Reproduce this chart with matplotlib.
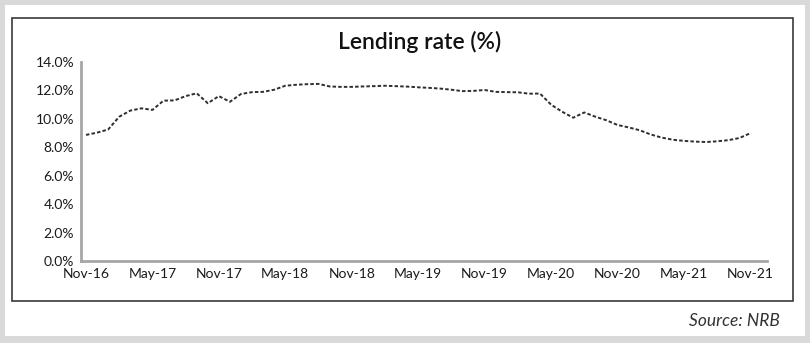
import matplotlib
matplotlib.use("Agg")
import matplotlib.pyplot as plt
from matplotlib.patches import Rectangle

plt.rcParams['font.family'] = ['Lato', 'DejaVu Sans']

# monthly lending rate (%), Nov-16 .. Nov-21
rates = [8.87, 9.03, 9.25, 10.15, 10.58, 10.74, 10.63, 11.28, 11.30, 11.60,
         11.80, 11.10, 11.60, 11.20, 11.75, 11.88, 11.90, 12.05, 12.33, 12.40,
         12.44, 12.46, 12.28, 12.25, 12.25, 12.28, 12.30, 12.33, 12.30, 12.27,
         12.22, 12.18, 12.13, 12.05, 11.95, 11.97, 12.03, 11.90, 11.88, 11.87,
         11.77, 11.78, 11.00, 10.50, 10.08, 10.45, 10.15, 9.90, 9.57, 9.40,
         9.20, 8.90, 8.68, 8.53, 8.45, 8.40, 8.37, 8.42, 8.50, 8.65, 8.99]
tick_labels = ['Nov-16', 'May-17', 'Nov-17', 'May-18', 'Nov-18', 'May-19',
               'Nov-19', 'May-20', 'Nov-20', 'May-21', 'Nov-21']
y_ticks = [0, 2, 4, 6, 8, 10, 12, 14]

fig = plt.figure(figsize=(8.1, 3.43), dpi=100)
fig.patch.set_facecolor('#d9d9d9')

# white panel and dark frame
W, H = 810, 343
fig.add_artist(Rectangle((5 / W, 7 / H), 800 / W, 331 / H, transform=fig.transFigure,
                         facecolor='white', edgecolor='none', zorder=0))
fig.add_artist(Rectangle((12 / W, (H - 301) / H), 781 / W, 283 / H, transform=fig.transFigure,
                         facecolor='none', edgecolor='#3a3a3a', lw=1.2, zorder=1))

ax = fig.add_axes([81 / W, (H - 261) / H, 686 / W, 199 / H])
ax.set_facecolor('none')

x = list(range(len(rates)))
ax.plot(x, rates, color='#2e2e2e', lw=1.4, linestyle=(0, (1.8, 1.1)))

ax.set_xlim(-0.45, 61.5)
ax.set_ylim(0, 14)
ax.set_yticks(y_ticks)
ax.set_yticklabels(['{:.1f}%'.format(v) for v in y_ticks], fontsize=10, color='#1a1a1a')
ax.set_xticks(range(0, 61, 6))
ax.set_xticklabels(tick_labels, fontsize=10, color='#1a1a1a')
ax.tick_params(length=0, pad=5)

for s in ['top', 'right']:
    ax.spines[s].set_visible(False)
for s in ['left', 'bottom']:
    ax.spines[s].set_color('#a6a6a6')
    ax.spines[s].set_linewidth(2)

fig.text(420 / W, 1 - 42 / H, 'Lending rate (%)', ha='center', va='center',
         fontsize=16.5, fontweight='semibold', color='#111111')
fig.text(780 / W, 1 - 321 / H, 'Source: NRB', ha='right', va='center',
         fontsize=12.5, style='italic', color='#333333')

fig.savefig('out.png', dpi=100, facecolor=fig.get_facecolor())
